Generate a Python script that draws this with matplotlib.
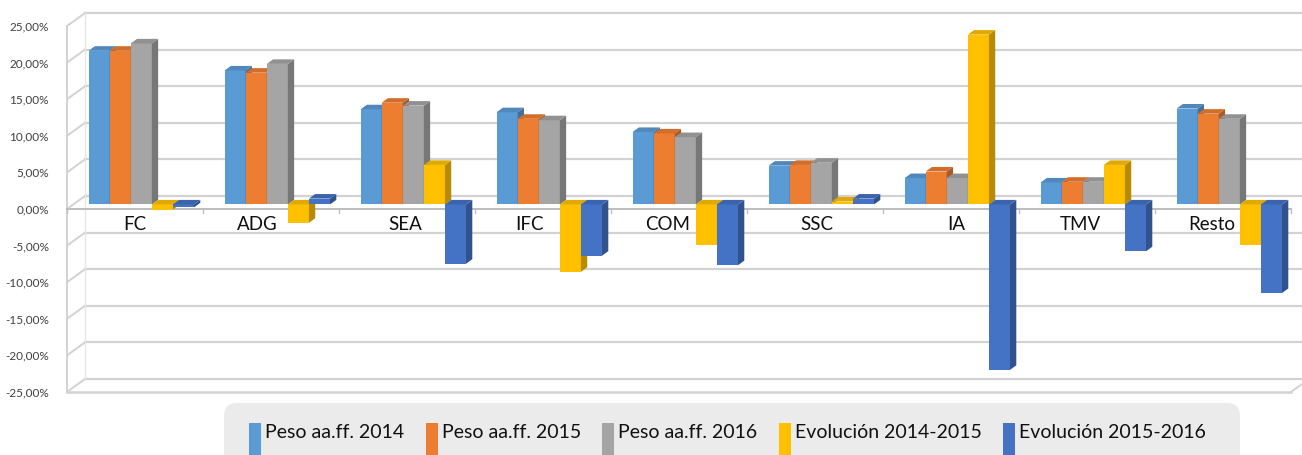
import matplotlib
matplotlib.use("Agg")
import matplotlib.pyplot as plt
from matplotlib.patches import Polygon, Rectangle, FancyBboxPatch
from matplotlib.transforms import IdentityTransform
from matplotlib.colors import to_rgb
import numpy as np

plt.rcParams['font.family'] = ['Lato', 'DejaVu Sans']

categories = ["FC", "ADG", "SEA", "IFC", "COM", "SSC", "IA", "TMV", "Resto"]
series_names = ["Peso aa.ff. 2014", "Peso aa.ff. 2015", "Peso aa.ff. 2016",
                "Evolución 2014-2015", "Evolución 2015-2016"]
peso_2014 = [21.0, 18.3, 13.0, 12.6, 9.9, 5.3, 3.6, 3.0, 13.1]
peso_2015 = [21.0, 18.0, 13.9, 11.7, 9.7, 5.4, 4.5, 3.1, 12.4]
peso_2016 = [22.0, 19.2, 13.5, 11.5, 9.2, 5.7, 3.6, 3.1, 11.7]
evol_14_15 = [-0.7, -2.5, 5.4, -9.2, -5.5, 0.4, 23.2, 5.4, -5.6]
evol_15_16 = [-0.4, 0.8, -8.1, -7.0, -8.3, 0.8, -22.6, -6.4, -12.1]
series = [peso_2014, peso_2015, peso_2016, evol_14_15, evol_15_16]
colors = ["#5B9BD5", "#ED7D31", "#A5A5A5", "#FFC000", "#4472C4"]
yticks = np.arange(-25, 26, 5)
ytick_labels = ["{:.2f}%".format(v).replace(".", ",") for v in yticks]

# layout (pixels of a 1302x455 canvas)
W, H = 1302, 455
px_x = 136.0          # pixels per category
px_y = 7.32           # pixels per percentage point
back_dx, back_dy = 18 / px_x, 13 / px_y       # back wall offset
bar_dx, bar_dy = 6.3 / px_x, 4.55 / px_y      # offset of bar front face
dep_dx, dep_dy = 6.3 / px_x, 4.55 / px_y      # bar depth
bar_w = 0.155
label_x = [0.5, 1.40, 2.49, 3.40, 4.42, 5.51, 6.54, 7.45, 8.42]
grid_col = "#d2d2d2"

fig = plt.figure(figsize=(W / 100, H / 100), dpi=100)
ax = fig.add_axes([67 / W, (H - 392) / H, 1224 / W, 366 / H])
ax.set_xlim(0, 9)
ax.set_ylim(-25, 25)
for s in ax.spines.values():
    s.set_visible(False)
ax.set_xticks([])
ax.set_yticks(yticks)
ax.set_yticklabels(ytick_labels, fontsize=8.5, color="#404040")
ax.tick_params(axis="y", length=0, pad=13)

# walls and floor
for v in yticks:
    ax.plot([back_dx, 9 + back_dx], [v + back_dy, v + back_dy], color=grid_col,
            lw=1.6, clip_on=False, zorder=1)
    ax.plot([0, back_dx], [v, v + back_dy], color=grid_col, lw=1.4,
            clip_on=False, zorder=1)
ax.plot([0, 0], [-25, 25], color=grid_col, lw=1.4, clip_on=False, zorder=1)
ax.plot([back_dx, back_dx], [-25 + back_dy, 25 + back_dy], color="#e6e6e6",
        lw=1.0, clip_on=False, zorder=1)
ax.plot([0, 9], [-25, -25], color=grid_col, lw=1.8, clip_on=False, zorder=1)
ax.plot([9, 9 + back_dx], [-25, -25 + back_dy], color=grid_col, lw=1.4,
        clip_on=False, zorder=1)

# category axis at zero
ax.plot([0, 9], [0, 0], color="#bdbdbd", lw=1.4, clip_on=False, zorder=1)
for i in range(10):
    ax.plot([i, i], [0, -0.5], color="#bdbdbd", lw=1.0, clip_on=False, zorder=1)


def shade(c, f):
    r, g, b = to_rgb(c)
    return (r * f, g * f, b * f)


n = len(series)
for i, cat in enumerate(categories):
    for k in range(n):
        v = series[k][i]
        x0 = i + 0.5 + (k - n / 2) * bar_w + bar_dx
        x1 = x0 + bar_w
        top, bot = max(v, 0), min(v, 0)
        z = 3 + i * 10 + k
        ax.bar(x0, v, width=bar_w, bottom=bar_dy, align="edge",
               color=colors[k], lw=0, zorder=z)
        side = [(x1, bot + bar_dy), (x1 + dep_dx, bot + bar_dy + dep_dy),
                (x1 + dep_dx, top + bar_dy + dep_dy), (x1, top + bar_dy)]
        lid = [(x0, top + bar_dy), (x1, top + bar_dy),
               (x1 + dep_dx, top + bar_dy + dep_dy), (x0 + dep_dx, top + bar_dy + dep_dy)]
        ax.add_patch(Polygon(side, closed=True, color=shade(colors[k], 0.72),
                             lw=0, zorder=z))
        ax.add_patch(Polygon(lid, closed=True, color=shade(colors[k], 0.88),
                             lw=0, zorder=z))
    ax.text(label_x[i], -0.9, cat, ha="center", va="top", fontsize=13.5,
            color="#111111", zorder=2)

# legend, laid out in pixels (origin bottom-left)
fig.patches.append(FancyBboxPatch((224, -20), 1240 - 224, H - 403 + 20,
                                  boxstyle="round,pad=0,rounding_size=13",
                                  transform=IdentityTransform(), facecolor="#ebebeb",
                                  edgecolor="none"))
renderer = fig.canvas.get_renderer()
x = 249
for name, c in zip(series_names, colors):
    fig.patches.append(Rectangle((x, 0), 12, H - 423, transform=IdentityTransform(),
                                 facecolor=c, edgecolor="none"))
    t = fig.text((x + 16) / W, 1 - 432 / H, name, fontsize=14, ha="left",
                 va="center", color="#111111")
    bb = t.get_window_extent(renderer)
    x = bb.x1 + 21.5

fig.savefig("out.png", dpi=100)
